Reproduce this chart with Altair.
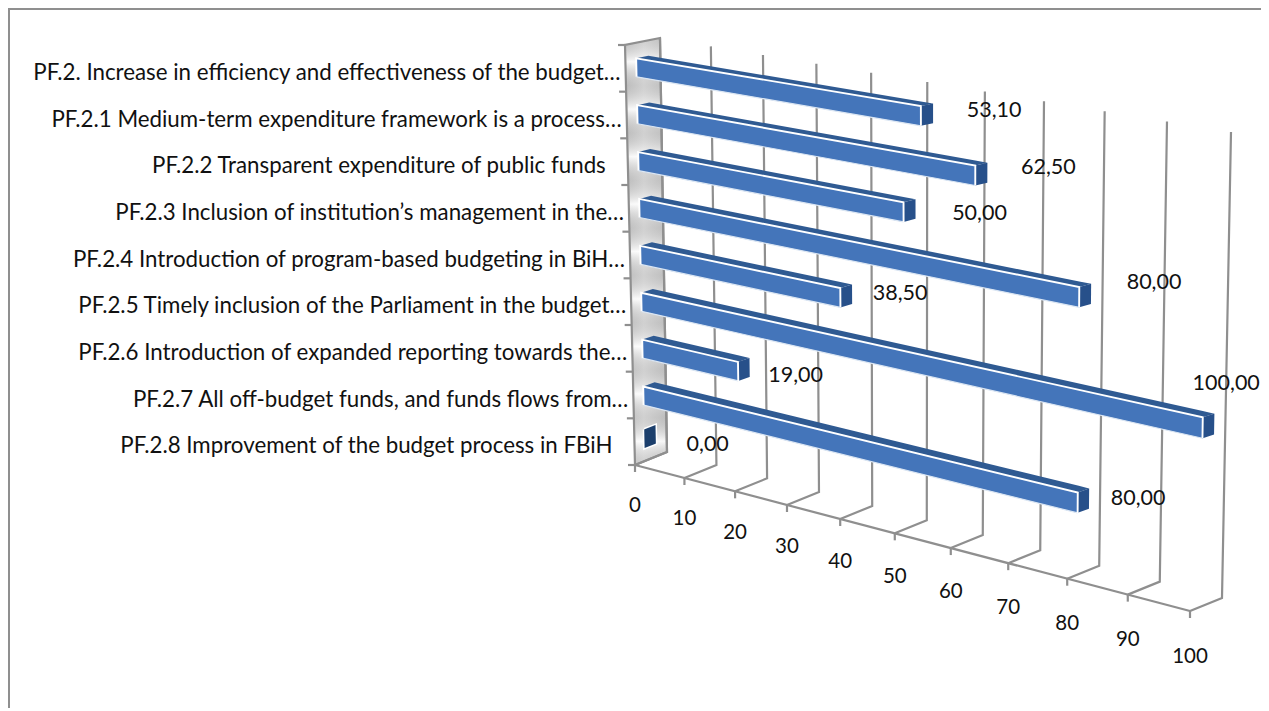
import altair as alt
import pandas as pd

# ---- data ----
categories = [
    "PF.2. Increase in efficiency and effectiveness of the budget…",
    "PF.2.1 Medium-term expenditure framework is a process…",
    "PF.2.2 Transparent expenditure of public funds",
    "PF.2.3 Inclusion of institution’s management in the…",
    "PF.2.4 Introduction of program-based budgeting in BiH…",
    "PF.2.5 Timely inclusion of the Parliament in the budget…",
    "PF.2.6 Introduction of expanded reporting towards the…",
    "PF.2.7 All off-budget funds, and funds flows from…",
    "PF.2.8 Improvement of the budget process in FBiH",
]
values = [53.10, 62.50, 50.00, 80.00, 38.50, 100.00, 19.00, 80.00, 0.00]
ticks = [0, 10, 20, 30, 40, 50, 60, 70, 80, 90, 100]

# ---- 3D view of the box (screen space of the picture) ----
PAGE = 8
W, H = 1253, 700
FONT = "Lato"
GRID = "#8f8f8f"
PERSP = 0.12
Z0, Z1 = 0.31, 0.66
N = len(categories)


def s(v):
    t = v / 100
    return t * (1 - PERSP) / (1 - PERSP * t)


def lerp(a, b, k):
    return (a[0] + (b[0] - a[0]) * k, a[1] + (b[1] - a[1]) * k)


def FB(v):
    return lerp((635, 465), (1190, 611), s(v))


def BB(v):
    return lerp((667, 452), (1222, 598), s(v))


def TB(v):
    return lerp((660, 38), (1231, 132), s(v))


def FT(v):
    p = TB(v)
    return (p[0] - 35, p[1] + 7)


def P(v, h, z):
    return lerp(lerp(FT(v), FB(v), h), lerp(TB(v), BB(v), h), z)


# ---- table builders ----
def polygon(rows, pid, pts, fill):
    xs = sorted({p[0] for p in pts})
    n = len(pts)
    for x in xs:
        ys = []
        for i in range(n):
            a, b = pts[i], pts[(i + 1) % n]
            lo, hi = min(a[0], b[0]), max(a[0], b[0])
            if lo <= x <= hi:
                if a[0] == b[0]:
                    ys += [a[1], b[1]]
                else:
                    ys.append(a[1] + (b[1] - a[1]) * (x - a[0]) / (b[0] - a[0]))
        rows.append({"id": pid, "x": x, "y": min(ys), "y2": max(ys), "fill": fill})


def polyline(rows, pid, pts):
    for k, p in enumerate(pts):
        rows.append({"id": pid, "x": p[0], "y": p[1], "ord": k})


xs = alt.Scale(domain=[PAGE, PAGE + W], range=[0, W], nice=False, zero=False)
ys = alt.Scale(domain=[PAGE, PAGE + H], range=[0, H], nice=False, zero=False)
X = alt.X("x:Q", scale=xs, axis=None)
Y = alt.Y("y:Q", scale=ys, axis=None)


def lines(rows, color, width):
    return alt.Chart(pd.DataFrame(rows)).mark_line(
        color=color, strokeWidth=width, interpolate="linear", clip=False
    ).encode(x=X, y=Y, detail="id:N", order="ord:Q")


def areas(rows):
    return alt.Chart(pd.DataFrame(rows)).mark_area(interpolate="linear").encode(
        x=X, y=Y, y2="y2:Q", detail="id:N",
        fill=alt.Fill("fill:N", scale=None),
    )


# frame (left and top edges only are visible in the picture)
frame_rows = []
polyline(frame_rows, "frame", [(9, 708), (9, 9), (1261, 9)])

# side wall: a sideways sheen and a banding that follows the categories
wall_rows = []
polygon(wall_rows, "wall", [FT(0), TB(0), BB(0), FB(0)], "wall")
wall = alt.Chart(pd.DataFrame(wall_rows)).mark_area(
    interpolate="linear",
    fill=alt.Gradient(
        gradient="linear", x1=0, x2=1, y1=0, y2=0,
        stops=[
            alt.GradientStop(offset=0, color="#d4d4d4"),
            alt.GradientStop(offset=0.45, color="#f8f8f8"),
            alt.GradientStop(offset=1, color="#d6d6d6"),
        ],
    ),
).encode(x=X, y=Y, y2="y2:Q")
band_stops = []
for k in range(N):
    band_stops.append(alt.GradientStop(offset=k / N, color="rgba(150,150,150,0.4)"))
    band_stops.append(alt.GradientStop(offset=(k + 0.5) / N, color="rgba(255,255,255,0.8)"))
band_stops.append(alt.GradientStop(offset=1, color="rgba(150,150,150,0.4)"))
wall_bands = alt.Chart(pd.DataFrame(wall_rows)).mark_area(
    interpolate="linear",
    fill=alt.Gradient(gradient="linear", x1=0, x2=0, y1=0, y2=1, stops=band_stops),
).encode(x=X, y=Y, y2="y2:Q")

grid_rows = []
polyline(grid_rows, "front edge", [FB(0), FB(100)])
polyline(grid_rows, "wall edge", [FB(0), FT(0), TB(0), BB(0), FB(0)])
for t in ticks:
    b, f, u = BB(t), FB(t), TB(t)
    polyline(grid_rows, f"grid{t}", [f, b, u])
    polyline(grid_rows, f"tick{t}", [f, (f[0], f[1] + 7)])
for k in range(N + 1):
    p = P(0, k / N, 0)
    polyline(grid_rows, f"cat{k}", [p, (p[0] - 7, p[1])])

# bars
top_rows, front_rows, cap_rows, white_rows, halo_rows, zero_rows = [], [], [], [], [], []
for i, v in enumerate(values):
    h0, h1 = (i + 0.3) / N, (i + 0.7) / N
    shift = 1.5 + 3 * i / 7 if v > 0 else 1.0

    def at(val, h, z):
        p = P(val, h, z)
        return (p[0], p[1] + shift)

    a, b = at(0, h0, Z0), at(v, h0, Z0)
    c, d = at(v, h1, Z0), at(0, h1, Z0)
    e, f = at(0, h0, Z1), at(v, h0, Z1)
    g = at(v, h1, Z1)
    if v > 0:
        polygon(top_rows, f"top{i}", [a, b, f, e], "#2f5a92")
        polygon(front_rows, f"front{i}", [a, b, c, d], "#4475ba")
        polyline(white_rows, f"edge{i}", [d, a, b, c])
        polyline(halo_rows, f"under{i}", [d, c])
    else:
        polyline(zero_rows, f"zero{i}", [b, f, g, c, b])
    polygon(cap_rows, f"cap{i}", [b, f, g, c], "#27508a" if v > 0 else "#1c3f6c")

# texts
label_rows = []
for i, name in enumerate(categories):
    p = P(0, (i + 0.5) / N, 0)
    inset = 5 if name.endswith("…") else 22
    label_rows.append({"text": name, "x": p[0] - inset, "y": p[1] + 4.5})

value_nudge = [(61, -1), (61, -3), (64, 7), (63, -8), (48, 3), (12, -36), (46, 13), (49, 5), (52, 12)]
value_rows = []
for i, v in enumerate(values):
    p = P(v, (i + 0.5) / N, Z1)
    value_rows.append({
        "text": f"{v:.2f}".replace(".", ","),
        "x": p[0] + value_nudge[i][0], "y": p[1] + value_nudge[i][1],
    })

tick_rows = []
for t in ticks:
    p = FB(t)
    tick_rows.append({"text": str(t), "x": p[0], "y": p[1] + 41 + 5 * s(t)})


def texts(rows, align, size):
    return alt.Chart(pd.DataFrame(rows)).mark_text(
        align=align, baseline="middle", font=FONT, fontSize=size, color="#111111"
    ).encode(x=X, y=Y, text="text:N")


chart = alt.layer(
    lines(frame_rows, GRID, 2),
    wall,
    wall_bands,
    lines(grid_rows, GRID, 2.2),
    areas(top_rows),
    areas(front_rows),
    lines(halo_rows, "#dbe6f3", 1.2),
    lines(zero_rows, "#ffffff", 3),
    areas(cap_rows),
    lines(white_rows, "#ffffff", 1.9),
    texts(label_rows, "right", 22.3),
    texts(value_rows, "center", 21.5),
    texts(tick_rows, "center", 20.5),
).properties(
    width=W, height=H, padding=0, autosize=alt.AutoSizeParams(type="none"),
    background="white",
).configure_view(stroke=None)

chart.save("out.html", embed_options={"renderer": "svg", "actions": False})
